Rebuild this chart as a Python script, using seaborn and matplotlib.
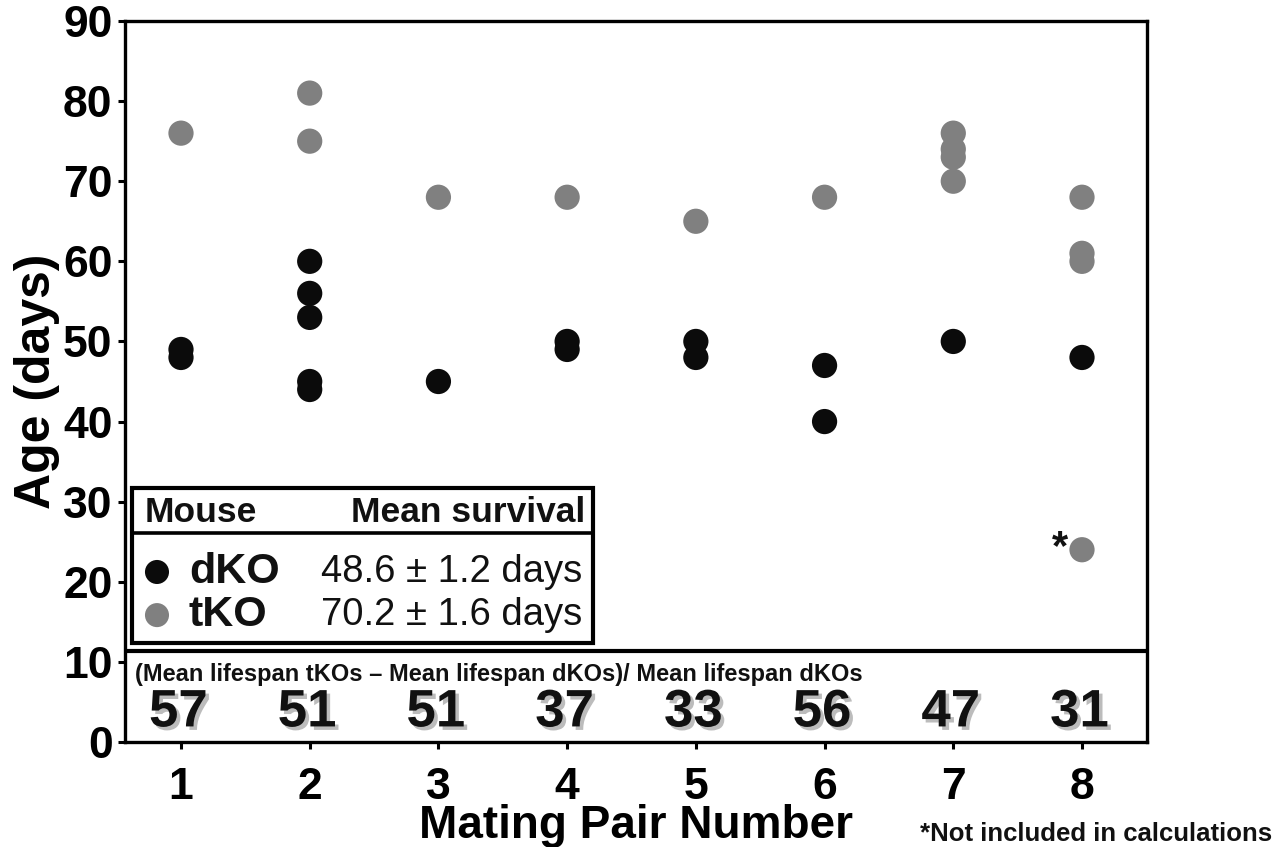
import matplotlib
matplotlib.use("Agg")
import matplotlib.pyplot as plt
import matplotlib.patheffects as pe
from matplotlib import font_manager
from matplotlib.patches import Rectangle
from matplotlib.lines import Line2D
import matplotlib.transforms as mtransforms
import seaborn as sns
import pandas as pd

# ---------------- data ----------------
pairs = [1, 2, 3, 4, 5, 6, 7, 8]
dko_ages = {
    1: [49, 48],
    2: [60, 56, 53, 45, 44],
    3: [45],
    4: [50, 49],
    5: [50, 48],
    6: [47, 40],
    7: [50],
    8: [48],
}
tko_ages = {
    1: [76],
    2: [81, 75],
    3: [68],
    4: [68],
    5: [65],
    6: [68],
    7: [76, 74, 73, 70],
    8: [68, 61, 60, 24],
}
excluded_point = (8, 24)  # marked with *
pct_increase = [57, 51, 51, 37, 33, 56, 47, 31]
mouse_labels = ["dKO", "tKO"]
mean_survival = ["48.6 \u00b1 1.2 days", "70.2 \u00b1 1.6 days"]
yticks = [0, 10, 20, 30, 40, 50, 60, 70, 80, 90]

rows = []
for p in pairs:
    for a in dko_ages[p]:
        rows.append({"pair": p, "age": a, "mouse": "dKO"})
    for a in tko_ages[p]:
        rows.append({"pair": p, "age": a, "mouse": "tKO"})
df = pd.DataFrame(rows)

colors = {"dKO": "#0b0b0b", "tKO": "#808080"}

# ---------------- style ----------------
sns.set_style("ticks")
plt.rcParams["font.family"] = ["Liberation Sans", "DejaVu Sans"]
plt.rcParams["font.weight"] = "bold"
plt.rcParams["axes.labelcolor"] = "black"
plt.rcParams["text.color"] = "black"

avail = {f.name for f in font_manager.fontManager.ttflist}
narrow = "Liberation Sans Narrow" in avail
narrow_family = ["Liberation Sans Narrow", "Liberation Sans", "DejaVu Sans"] if narrow else ["Liberation Sans", "DejaVu Sans"]
note_size = 21 if narrow else 17
foot_size = 22 if narrow else 18.5

fig = plt.figure(figsize=(12.87, 8.47), dpi=100)
ax = fig.add_axes([125 / 1287, 1 - 742 / 847, (1147 - 125) / 1287, (742 - 21) / 847])

sns.scatterplot(data=df, x="pair", y="age", hue="mouse", palette=colors,
                s=330, edgecolor="none", linewidth=0, legend=False, ax=ax, zorder=3)

ax.set_xlim(0.565, 8.505)
ax.set_ylim(0, 90)
ax.set_xticks(pairs)
ax.set_xticklabels([str(p) for p in pairs])
ax.set_yticks(yticks)
ax.set_yticklabels([str(v) for v in yticks])

for sp in ax.spines.values():
    sp.set_linewidth(2.4)
    sp.set_color("black")
ax.tick_params(axis="both", direction="out", length=5, width=2.2, labelsize=32, colors="black")
ax.tick_params(axis="x", pad=13)
ax.tick_params(axis="y", pad=4)
for lab in ax.get_xticklabels() + ax.get_yticklabels():
    lab.set_fontweight("bold")

ax.set_xlabel("Mating Pair Number", fontsize=33, fontweight="bold", labelpad=-3, color="black")
ax.set_ylabel("Age (days)", fontsize=36, fontweight="bold", labelpad=2, color="black")

# asterisk for excluded point
ax.text(excluded_point[0] - 0.17, excluded_point[1] + 0.2, "*", fontsize=30, fontweight="bold",
        ha="center", va="center", color="#111111", zorder=4)

# ---------------- legend table ----------------
bx0, bx1 = 0.0068, 0.4579
by0, by1 = 0.1373, 0.3523
ax.add_patch(Rectangle((bx0, by0), bx1 - bx0, by1 - by0, transform=ax.transAxes,
                       fill=True, facecolor="white", edgecolor="black", linewidth=3.0, zorder=5))
ax.add_line(Line2D([bx0, bx1], [0.2899, 0.2899], transform=ax.transAxes, color="black",
                   linewidth=2.6, zorder=6))
ax.text(0.0196, 0.319, "Mouse", transform=ax.transAxes, fontsize=25.5, fontweight="bold",
        ha="left", va="center", zorder=7, color="#111111")
ax.text(0.450, 0.319, "Mean survival", transform=ax.transAxes, fontsize=25.5, fontweight="bold",
        ha="right", va="center", zorder=7, color="#111111")
rows_y = [0.2358, 0.1760]
for lab, ms, yy in zip(mouse_labels, mean_survival, rows_y):
    ax.scatter([0.0313], [yy], s=300, color=colors[lab], transform=ax.transAxes,
               edgecolor="none", zorder=7, clip_on=False)
    ax.text(0.0625, yy, lab, transform=ax.transAxes, fontsize=31, fontweight="bold",
            ha="left", va="center", zorder=7, color="#111111")
    ax.text(0.4475, yy, ms, transform=ax.transAxes, fontsize=27.5, fontweight="normal",
            ha="right", va="center", zorder=7, color="#111111")

# ---------------- bottom box ----------------
ax.add_line(Line2D([0, 1], [0.1262, 0.1262], transform=ax.transAxes, color="black",
                   linewidth=3.0, zorder=6))
ax.text(0.0098, 0.093, "(Mean lifespan tKOs \u2013 Mean lifespan dKOs)/ Mean lifespan dKOs",
        transform=ax.transAxes, fontsize=note_size, fontweight="bold", family=narrow_family,
        ha="left", va="center", zorder=7, color="#111111")
trans = mtransforms.blended_transform_factory(ax.transData, ax.transAxes)
for p, v in zip(pairs, pct_increase):
    t = ax.text(p - 0.02, 0.041, str(v), transform=trans, fontsize=38, fontweight="bold",
                ha="center", va="center", zorder=7, color="#111111")
    t.set_path_effects([pe.withSimplePatchShadow(offset=(2.5, -2.5), shadow_rgbFace="#a0a0a0", alpha=0.7)])

fig.text(920 / 1287, 1 - 834 / 847, "*Not included in calculations", fontsize=foot_size,
         fontweight="bold", family=narrow_family, ha="left", va="center", color="#111111")

fig.savefig("out.png", dpi=100, facecolor="white")
